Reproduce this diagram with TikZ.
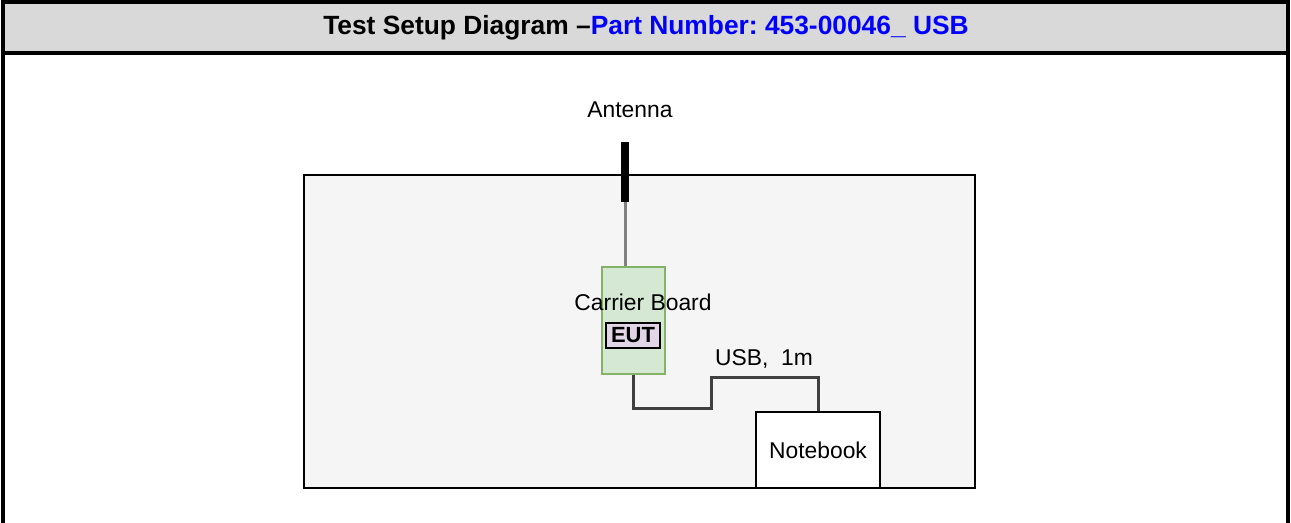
\documentclass[tikz,border=0pt]{standalone}
\usepackage{fontspec}
\setmainfont{Liberation Sans}
\usepackage{xcolor}
\usetikzlibrary{positioning, calc}

\definecolor{hdrgray}{HTML}{D9D9D9}
\definecolor{roomgray}{HTML}{F5F5F5}
\definecolor{boardfill}{HTML}{D5E8D4}
\definecolor{boardline}{HTML}{82B366}
\definecolor{eutfill}{HTML}{E1D5E7}
\definecolor{titleblue}{HTML}{0000FF}

\begin{document}
\frenchspacing
\begin{tikzpicture}[x=0.02cm, y=-0.02cm, font=\fontsize{13}{15}\selectfont,
  box/.style={draw, line width=0.8pt, inner sep=0pt},
  cable/.style={line width=1.7pt, draw=black!75}]
  \useasboundingbox (0,0) rectangle (1291,523);
  % Header
  \fill[hdrgray] (3,3) rectangle (1288,53);
  \draw[line width=2.2pt] (3,523) -- (3,2) -- (1288,2) -- (1288,523);
  \draw[line width=1.9pt] (3,53) -- (1288,53);
  \node (title) at (646,28) {\fontsize{15}{17}\selectfont\bfseries
    Test Setup Diagram --\textcolor{titleblue}{Part Number: 453-00046\_ USB}};
  % Test room
  \node[box, fill=roomgray, minimum width=13.42cm, minimum height=6.26cm]
    (room) at (639.5,331.5) {};
  % Antenna
  \node (antlabel) at (630,110) {Antenna};
  \node[fill=black, inner sep=0pt, minimum width=0.16cm, minimum height=1.2cm]
    (ant) at (625,172) {};
  % Carrier board with EUT
  \node[box, fill=boardfill, draw=boardline, minimum width=1.26cm, minimum height=2.14cm]
    (board) at (633.5,320.5) {};
  \node (boardlabel) at (643,302) {Carrier Board};
  \node[box, fill=eutfill, line width=1.1pt, minimum width=1.08cm, minimum height=0.5cm,
    font=\fontsize{12.5}{14}\selectfont\bfseries] (eut) at (633,335.5) {EUT};
  % Notebook
  \node[box, fill=white, minimum width=2.48cm, minimum height=1.52cm]
    (nb) at (818,450) {Notebook};
  % Cables
  \draw[cable, draw=black!50] (ant.south) -- (ant.south |- board.north);
  \draw[cable] (board.south) -- ++(0,34) -- ++(78,0) -- ++(0,-31) -| (nb.north);
  \node (usblabel) at (764,359) {USB,\ \ 1m};
\end{tikzpicture}
\end{document}
